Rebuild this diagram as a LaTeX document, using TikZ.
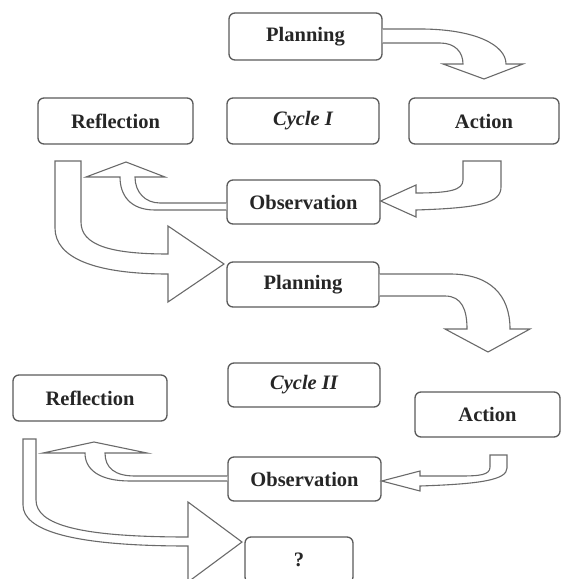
\documentclass[tikz,border=0pt]{standalone}
\usepackage{fontspec}
\setmainfont{Liberation Serif}
\definecolor{boxgray}{HTML}{5A5A5A}
\definecolor{arrgray}{HTML}{6A6A6A}
\definecolor{textgray}{HTML}{262626}
\begin{document}
\begin{tikzpicture}[x=1bp,y=-1bp,
  box/.style={draw=boxgray, line width=1.3bp, rounded corners=6bp, fill=white,
    inner sep=0pt, text=textgray, font=\fontsize{20.5bp}{24bp}\selectfont\bfseries},
  blk/.style={draw=arrgray, line width=1.1bp, fill=white, line join=miter}]
\useasboundingbox (0,0) rectangle (561,579);

% Cycle I
\node[box, minimum width=153bp, minimum height=47bp] (p1) at (305.5,36.5) {Planning};
\node[box, minimum width=155bp, minimum height=46bp] (r1) at (115.5,121) {Reflection};
\node[box, minimum width=152bp, minimum height=46bp] (c1) at (303,121) {\itshape Cycle I};
\node[box, minimum width=150bp, minimum height=46bp] (a1) at (484,121) {Action};
\node[box, minimum width=153bp, minimum height=44bp] (o1) at (303.5,202) {Observation};

% Cycle II
\node[box, minimum width=152bp, minimum height=45bp] (p2) at (303,284.5) {Planning};
\node[box, minimum width=152bp, minimum height=44bp] (c2) at (304,385) {\itshape Cycle II};
\node[box, minimum width=154bp, minimum height=46bp] (r2) at (90,398) {Reflection};
\node[box, minimum width=145bp, minimum height=45bp] (a2) at (487.5,414.5) {Action};
\node[box, minimum width=153bp, minimum height=44bp] (o2) at (304.5,479) {Observation};
\node[box, minimum width=108bp, minimum height=46bp] (q) at (299,560) {?};

% Planning I -> Action I
\filldraw[blk] (p1.east |- 0,29) -- (420,29) .. controls (475,29) and (506,45) .. (506,64)
  -- (523,64) -- (484,79) -- (443,64) -- (463,64)
  .. controls (463,52) and (455,43) .. (440,43) -- (p1.east |- 0,43);

% Action I -> Observation I
\filldraw[blk] (463,161) -- (463,180) .. controls (463,190) and (450,193) .. (416,193)
  -- (416,185) -- (o1.east |- 0,201) -- (416,217) -- (416,210)
  .. controls (480,208) and (501,203) .. (501,187) -- (501,161) -- cycle;

% Observation I -> Reflection I
\filldraw[blk] (o1.west |- 0,210) -- (155,210) .. controls (130,210) and (120,195) .. (120,177)
  -- (86,177) -- (126,162) -- (165,177) -- (135,177)
  .. controls (135,192) and (145,203) .. (160,203) -- (o1.west |- 0,203);

% Reflection I -> Planning II
\filldraw[blk] (55,161) -- (55,228) .. controls (55,258) and (95,274) .. (168,274)
  -- (168,302) -- (224,264) -- (168,226) -- (168,254)
  .. controls (110,254) and (81,245) .. (81,222) -- (81,161) -- cycle;

% Planning II -> Action II
\filldraw[blk] (p2.east |- 0,274) -- (450,274) .. controls (490,274) and (510,295) .. (510,329)
  -- (530,329) -- (488,352) -- (445,329) -- (467,329)
  .. controls (467,310) and (462,296) .. (445,296) -- (p2.east |- 0,296);

% Action II -> Observation II
\filldraw[blk] (490,455) -- (490,467) .. controls (490,475) and (480,476) .. (460,476)
  -- (420,476) -- (420,471) -- (o2.east |- 0,481) -- (420,491) -- (420,486)
  .. controls (480,484) and (507,480) .. (507,468) -- (507,455) -- cycle;

% Observation II -> Reflection II
\filldraw[blk] (o2.west |- 0,481) -- (130,481) .. controls (100,481) and (85,470) .. (85,453)
  -- (43,453) -- (94,442) -- (147,453) -- (105,453)
  .. controls (105,468) and (115,476) .. (135,476) -- (o2.west |- 0,476);

% Reflection II -> ?
\filldraw[blk] (23,439) -- (23,505) .. controls (23,530) and (70,546) .. (188,546)
  -- (188,582) -- (242,542) -- (188,502) -- (188,537)
  .. controls (80,537) and (36,525) .. (36,500) -- (36,439) -- cycle;
\end{tikzpicture}
\end{document}
